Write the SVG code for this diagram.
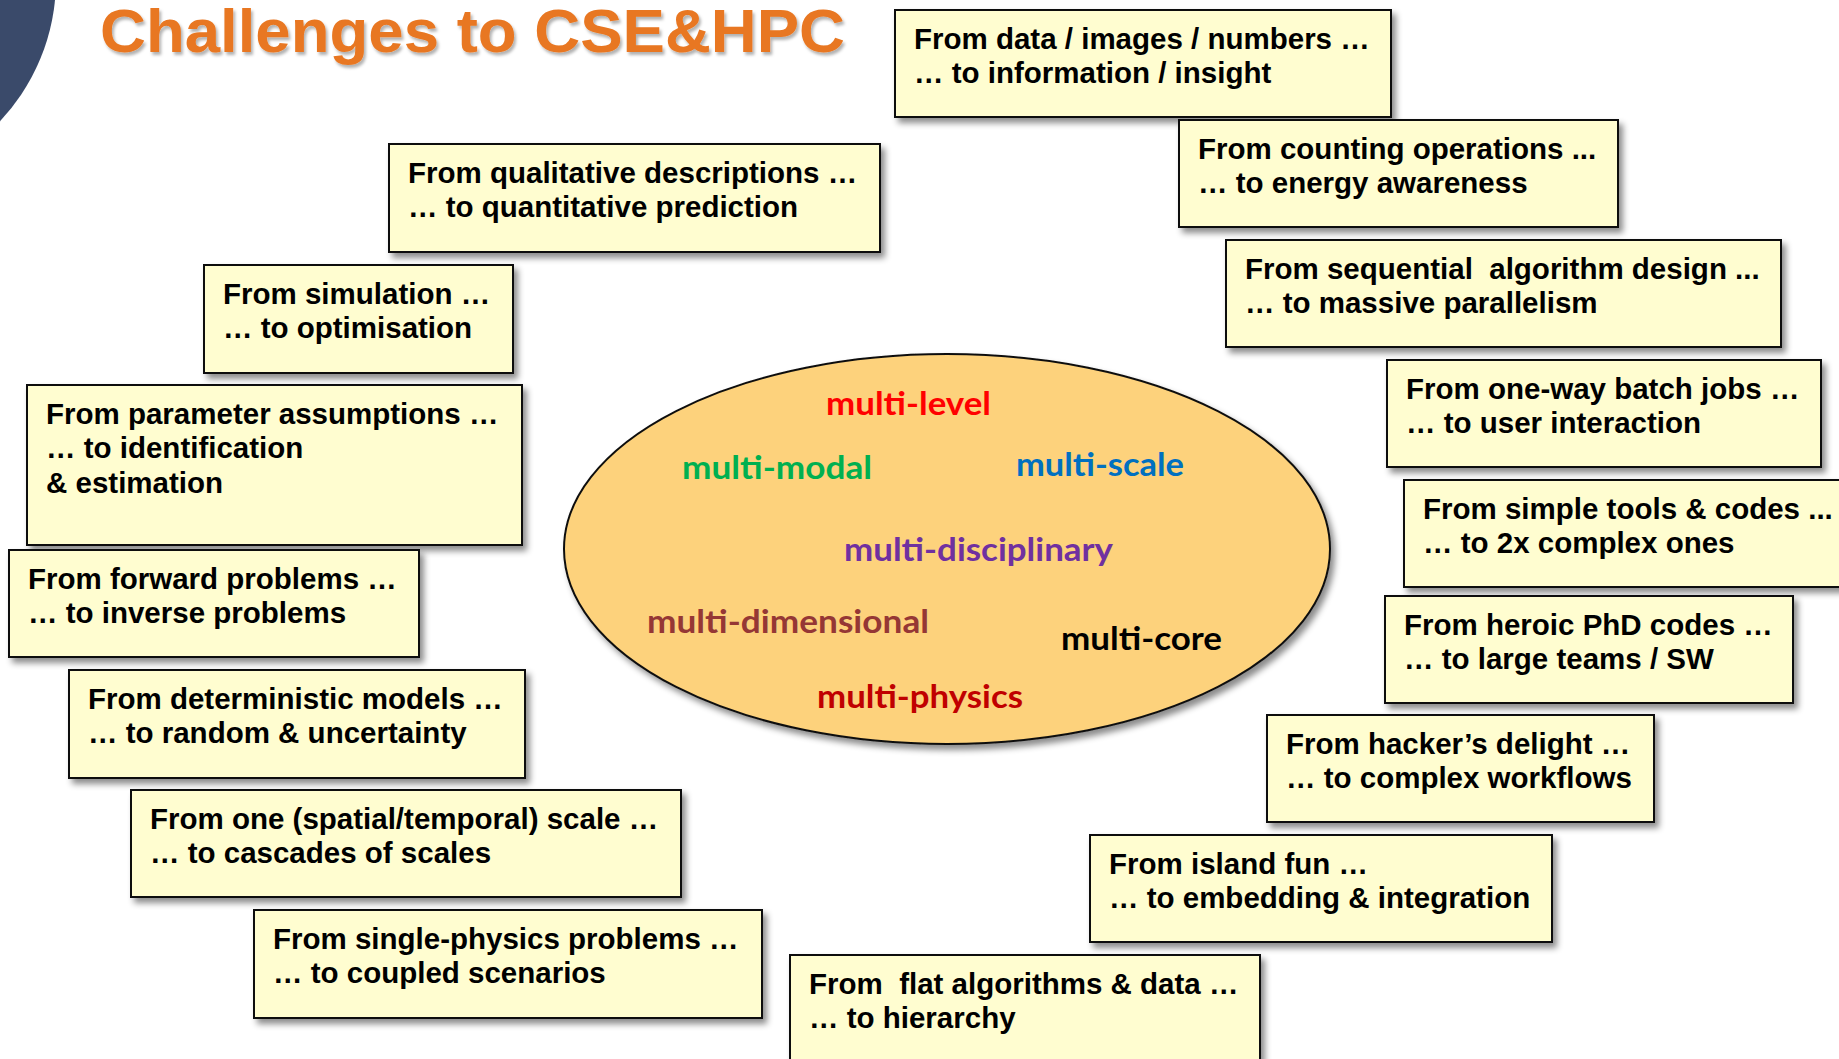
<svg xmlns="http://www.w3.org/2000/svg" width="1839" height="1059" viewBox="0 0 1839 1059">
  <defs>
    <filter id="shadow" x="-10%" y="-10%" width="130%" height="140%">
      <feDropShadow dx="4" dy="5" stdDeviation="3" flood-color="#000" flood-opacity="0.45"/>
    </filter>
    <filter id="titleShadow" x="-5%" y="-20%" width="110%" height="150%">
      <feDropShadow dx="2" dy="3" stdDeviation="1.5" flood-color="#000" flood-opacity="0.3"/>
    </filter>
    <style>
      .box { fill: #FFFDD0; stroke: #111; stroke-width: 2; filter: url(#shadow); }
      .lbl { font-family: "Liberation Sans", Arial, sans-serif; font-weight: bold; font-size: 29.5px; fill: #000; }
      .multi { font-family: Lato, "Open Sans", sans-serif; font-weight: bold; font-size: 33px; }
      .title { font-family: "Liberation Sans", Arial, sans-serif; font-weight: bold; font-size: 61px; fill: #E87722; filter: url(#titleShadow); }
    </style>
  </defs>

  <rect width="1839" height="1059" fill="#FFFFFF"/>

  <!-- corner decoration -->
  <circle cx="-150" cy="-20" r="206" fill="#3A4A6A"/>

  <text class="title" x="100" y="52" textLength="745" lengthAdjust="spacingAndGlyphs">Challenges to CSE&amp;HPC</text>

  <!-- central ellipse -->
  <g id="core">
    <ellipse cx="947" cy="549" rx="383" ry="195" fill="#FDD27B" stroke="#111" stroke-width="2" filter="url(#shadow)"/>
    <text class="multi" x="826" y="415" fill="#FF0000" textLength="165" lengthAdjust="spacingAndGlyphs">multi-level</text>
    <text class="multi" x="682" y="479" fill="#00B050" textLength="190" lengthAdjust="spacingAndGlyphs">multi-modal</text>
    <text class="multi" x="1016" y="476" fill="#0070C0" textLength="168" lengthAdjust="spacingAndGlyphs">multi-scale</text>
    <text class="multi" x="844" y="561" fill="#7030A0" textLength="269" lengthAdjust="spacingAndGlyphs">multi-disciplinary</text>
    <text class="multi" x="647" y="633" fill="#953735" textLength="282" lengthAdjust="spacingAndGlyphs">multi-dimensional</text>
    <text class="multi" x="1061" y="650" fill="#000000" textLength="161" lengthAdjust="spacingAndGlyphs">multi-core</text>
    <text class="multi" x="817" y="708" fill="#C00000" textLength="206" lengthAdjust="spacingAndGlyphs">multi-physics</text>
  </g>

  <!-- right-hand challenges -->
  <g id="data">
    <rect class="box" x="895" y="10" width="496" height="107"/>
    <text class="lbl" x="914" y="49">From data / images / numbers …</text>
    <text class="lbl" x="914" y="83">… to information / insight</text>
  </g>
  <g id="counting">
    <rect class="box" x="1179" y="120" width="439" height="107"/>
    <text class="lbl" x="1198" y="159">From counting operations ...</text>
    <text class="lbl" x="1198" y="193">… to energy awareness</text>
  </g>
  <g id="sequential">
    <rect class="box" x="1226" y="240" width="555" height="107"/>
    <text class="lbl" x="1245" y="279" xml:space="preserve">From sequential  algorithm design ...</text>
    <text class="lbl" x="1245" y="313">… to massive parallelism</text>
  </g>
  <g id="batch">
    <rect class="box" x="1387" y="360" width="434" height="107"/>
    <text class="lbl" x="1406" y="399">From one-way batch jobs …</text>
    <text class="lbl" x="1406" y="433">… to user interaction</text>
  </g>
  <g id="tools">
    <rect class="box" x="1404" y="480" width="460" height="107"/>
    <text class="lbl" x="1423" y="519">From simple tools &amp; codes ...</text>
    <text class="lbl" x="1423" y="553">… to 2x complex ones</text>
  </g>
  <g id="teams">
    <rect class="box" x="1385" y="596" width="408" height="107"/>
    <text class="lbl" x="1404" y="635">From heroic PhD codes …</text>
    <text class="lbl" x="1404" y="669">… to large teams / SW</text>
  </g>
  <g id="workflows">
    <rect class="box" x="1267" y="715" width="387" height="107"/>
    <text class="lbl" x="1286" y="754">From hacker’s delight …</text>
    <text class="lbl" x="1286" y="788">… to complex workflows</text>
  </g>
  <g id="island">
    <rect class="box" x="1090" y="835" width="462" height="107"/>
    <text class="lbl" x="1109" y="874">From island fun …</text>
    <text class="lbl" x="1109" y="908">… to embedding &amp; integration</text>
  </g>
  <g id="hierarchy">
    <rect class="box" x="790" y="955" width="470" height="120"/>
    <text class="lbl" x="809" y="994" xml:space="preserve">From  flat algorithms &amp; data …</text>
    <text class="lbl" x="809" y="1028">… to hierarchy</text>
  </g>

  <!-- left-hand challenges -->
  <g id="qualitative">
    <rect class="box" x="389" y="144" width="491" height="108"/>
    <text class="lbl" x="408" y="183">From qualitative descriptions …</text>
    <text class="lbl" x="408" y="217">… to quantitative prediction</text>
  </g>
  <g id="simulation">
    <rect class="box" x="204" y="265" width="309" height="108"/>
    <text class="lbl" x="223" y="304">From simulation …</text>
    <text class="lbl" x="223" y="338">… to optimisation</text>
  </g>
  <g id="parameter">
    <rect class="box" x="27" y="385" width="495" height="160"/>
    <text class="lbl" x="46" y="424">From parameter assumptions …</text>
    <text class="lbl" x="46" y="458">… to identification</text>
    <text class="lbl" x="46" y="493">&amp; estimation</text>
  </g>
  <g id="forward">
    <rect class="box" x="9" y="550" width="410" height="107"/>
    <text class="lbl" x="28" y="589">From forward problems …</text>
    <text class="lbl" x="28" y="623">… to inverse problems</text>
  </g>
  <g id="deterministic">
    <rect class="box" x="69" y="670" width="456" height="108"/>
    <text class="lbl" x="88" y="709">From deterministic models …</text>
    <text class="lbl" x="88" y="743">… to random &amp; uncertainty</text>
  </g>
  <g id="scale">
    <rect class="box" x="131" y="790" width="550" height="107"/>
    <text class="lbl" x="150" y="829">From one (spatial/temporal) scale …</text>
    <text class="lbl" x="150" y="863">… to cascades of scales</text>
  </g>
  <g id="physics">
    <rect class="box" x="254" y="910" width="508" height="108"/>
    <text class="lbl" x="273" y="949">From single-physics problems …</text>
    <text class="lbl" x="273" y="983">… to coupled scenarios</text>
  </g>
</svg>
